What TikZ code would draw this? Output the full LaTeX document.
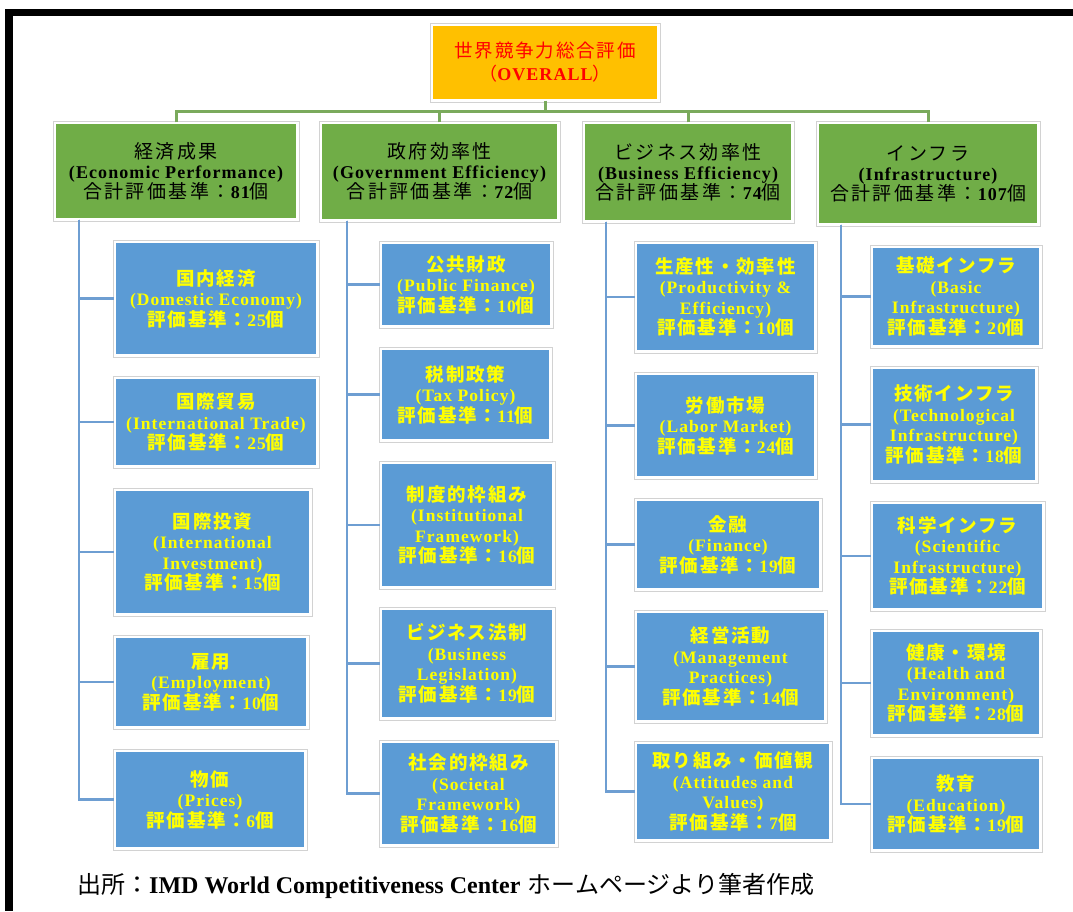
\documentclass[tikz,border=0pt]{standalone}
\usepackage{fontspec}
\setmainfont{Liberation Serif}[LetterSpace=6]
\newfontfamily\jp{Noto Sans CJK JP}[LetterSpace=10]
\newfontfamily\jpwide{Noto Sans CJK JP}[LetterSpace=13]
\newfontfamily\jpplain{Noto Sans CJK JP}
\newfontfamily\lplain{Liberation Serif}
\newcommand\jm[1]{{\jpwide\mdseries\fontsize{19}{20}\selectfont #1}}
\newcommand\jbf[1]{{\jp\fontsize{18.5}{20.5}\selectfont #1}}
\definecolor{cOrange}{HTML}{FFC000}
\definecolor{cRed}{HTML}{FF0000}
\definecolor{cGreen}{HTML}{70AD47}
\definecolor{cBlue}{HTML}{5B9BD5}
\definecolor{cYellow}{HTML}{FFFF00}
\definecolor{cGreenLine}{HTML}{7AAA5C}
\definecolor{cBlueLine}{HTML}{6E9ED2}
\tikzset{
  basebox/.style={draw=white, line width=1.2pt, align=center, inner sep=0pt},
  topbox/.style={basebox, fill=cOrange, text=cRed, font=\fontsize{18}{23}\selectfont\bfseries},
  lone/.style={basebox, fill=cGreen, text=black, font=\fontsize{18}{20}\selectfont\bfseries},
  ltwo/.style={basebox, fill=cBlue, text=cYellow, font=\fontsize{17.5}{20.5}\selectfont\bfseries},
  boxframe/.style={draw=gray!35, line width=0.8pt},
  gconn/.style={draw=cGreenLine, line width=3pt},
  bconn/.style={draw=cBlueLine, line width=2.8pt},
}
% name, x1, y1, x2, y2, style, text
\newcommand\bx[7]{%
  \pgfmathsetmacro\bxw{#4-#2}\pgfmathsetmacro\bxh{#5-#3}%
  \node[#6, minimum width=\bxw pt, minimum height=\bxh pt] (#1) at ({(#2+#4)/2},{(#3+#5)/2}) {#7};
  \draw[boxframe] ([shift={(-1.5pt,-1.5pt)}]#1.south west) rectangle ([shift={(1.5pt,1.5pt)}]#1.north east);
}
\newcommand\crit[1]{\jbf{評価基準：}#1\jbf{個}}
\newcommand\tcrit[1]{\jm{合計評価基準：}#1\jm{個}}
\begin{document}
\begin{tikzpicture}[x=1pt,y=-1pt]
\useasboundingbox (0,0) rectangle (1073,911);
\fill[white] (0,0) rectangle (1073,911);
% black frame
\fill[black] (5,9) rectangle (1073,16);
\fill[black] (5,9) rectangle (13,911);

% top
\bx{top}{432}{25}{658}{100}{topbox}{{\jp\mdseries\fontsize{18.5}{23}\selectfont 世界競争力総合評価}\\{\jp\mdseries （}OVERALL{\jp\mdseries ）}}

% level 1
\bx{a}{55}{123}{297}{219}{lone}{\jm{経済成果}\\(Economic Performance)\\\tcrit{81}}
\bx{b}{321}{123}{558}{220}{lone}{\jm{政府効率性}\\(Government Efficiency)\\\tcrit{72}}
\bx{c}{584}{123}{792}{221}{lone}{\jm{ビジネス効率性}\\(Business Efficiency)\\\tcrit{74}}
\bx{d}{818}{123}{1038}{224}{lone}{\jm{インフラ}\\(Infrastructure)\\\tcrit{107}}

% level 2, column 1
\bx{a1}{115}{242}{317}{355}{ltwo}{\jbf{国内経済}\\(Domestic Economy)\\\crit{25}}
\bx{a2}{115}{378}{317}{466}{ltwo}{\jbf{国際貿易}\\(International Trade)\\\crit{25}}
\bx{a3}{115}{490}{310}{614}{ltwo}{\jbf{国際投資}\\(International\\Investment)\\\crit{15}}
\bx{a4}{115}{637}{307}{727}{ltwo}{\jbf{雇用}\\(Employment)\\\crit{10}}
\bx{a5}{115}{751}{305}{848}{ltwo}{\jbf{物価}\\(Prices)\\\crit{6}}
% column 2
\bx{b1}{381}{243}{551}{326}{ltwo}{\jbf{公共財政}\\(Public Finance)\\\crit{10}}
\bx{b2}{381}{349}{550}{440}{ltwo}{\jbf{税制政策}\\(Tax Policy)\\\crit{11}}
\bx{b3}{381}{463}{553}{587}{ltwo}{\jbf{制度的枠組み}\\(Institutional\\Framework)\\\crit{16}}
\bx{b4}{381}{609}{553}{718}{ltwo}{\jbf{ビジネス法制}\\(Business\\Legislation)\\\crit{19}}
\bx{b5}{381}{742}{556}{845}{ltwo}{\jbf{社会的枠組み}\\(Societal\\Framework)\\\crit{16}}
% column 3
\bx{c1}{636}{243}{815}{351}{ltwo}{\jbf{生産性・効率性}\\(Productivity \&\\Efficiency)\\\crit{10}}
\bx{c2}{636}{374}{815}{477}{ltwo}{\jbf{労働市場}\\(Labor Market)\\\crit{24}}
\bx{c3}{636}{500}{820}{589}{ltwo}{\jbf{金融}\\(Finance)\\\crit{19}}
\bx{c4}{636}{612}{825}{721}{ltwo}{\jbf{経営活動}\\(Management\\Practices)\\\crit{14}}
\bx{c5}{636}{743}{830}{840}{ltwo}{\jbf{取り組み・価値観}\\(Attitudes and\\Values)\\\crit{7}}
% column 4
\bx{d1}{872}{247}{1040}{346}{ltwo}{\jbf{基礎インフラ}\\(Basic\\Infrastructure)\\\crit{20}}
\bx{d2}{872}{368}{1036}{481}{ltwo}{\jbf{技術インフラ}\\(Technological\\Infrastructure)\\\crit{18}}
\bx{d3}{872}{503}{1043}{609}{ltwo}{\jbf{科学インフラ}\\(Scientific\\Infrastructure)\\\crit{22}}
\bx{d4}{872}{631}{1040}{735}{ltwo}{\jbf{健康・環境}\\(Health and\\Environment)\\\crit{28}}
\bx{d5}{872}{758}{1040}{850}{ltwo}{\jbf{教育}\\(Education)\\\crit{19}}

% green connectors
\coordinate (bar) at (545,111);
\draw[gconn] (top.south) -- (bar);
\draw[gconn] (a.north) |- (bar) -| (d.north);
\draw[gconn] (b.north) -- (b.north |- bar);
\draw[gconn] (c.north) -- (c.north |- bar);

% blue connectors
\coordinate (va) at (79,0);
\coordinate (vb) at (347,0);
\coordinate (vc) at (606,0);
\coordinate (vd) at (841,0);
\foreach \p/\v in {a/va,b/vb,c/vc,d/vd}{
  \foreach \i in {1,...,5}{
    \draw[bconn] (\p.south -| \v) |- (\p\i.west);
  }
}

% source
\node[anchor=base west, inner sep=0pt, font=\fontsize{24}{28}\selectfont] (src) at (77,893)
  {{\jpplain 出所：}{\lplain\bfseries IMD World Competitiveness Center} {\jpplain ホームページより筆者作成}};
\end{tikzpicture}
\end{document}
